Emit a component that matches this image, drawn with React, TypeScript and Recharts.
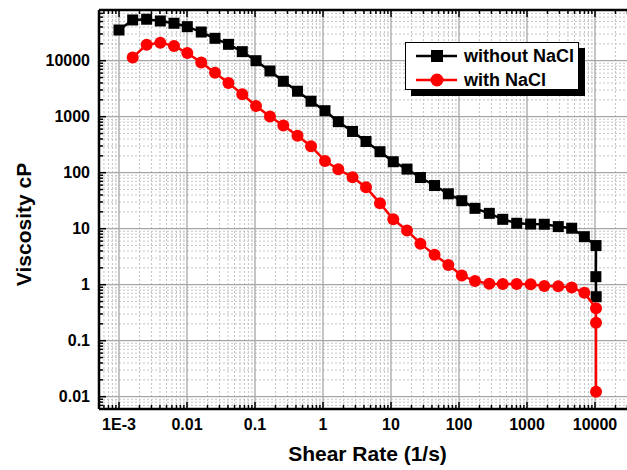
import React from 'react';
import { ScatterChart, Scatter, XAxis, YAxis, ReferenceLine, Legend, Label } from 'recharts';

// shear rate (1/s) and viscosity (cP)
const shearWithout = [
  0.001, 0.00159, 0.00255, 0.00405, 0.00644, 0.0101, 0.0162, 0.0258, 0.0407, 0.065,
  0.1035, 0.166, 0.261, 0.422, 0.667, 1.07, 1.68, 2.72, 4.29, 6.89,
  10.8, 17.2, 27.1, 43.7, 69.7, 110, 172, 279, 440, 706,
  1132, 1795, 2884, 4540, 6970, 10350, 10300, 10400
];
const viscWithout = [
  35300, 53400, 55000, 51200, 46600, 40500, 32500, 25100, 19600, 14500,
  10000, 6550, 4290, 2850, 1890, 1280, 815, 545, 361, 237,
  157, 116, 82, 59, 42, 31.6, 23.1, 18.8, 14.7, 12.5,
  12.1, 12.0, 10.9, 10.2, 7.2, 5.0, 1.39, 0.61
];
const shearWith = [
  0.00159, 0.00255, 0.00405, 0.00644, 0.0101, 0.0162, 0.0258, 0.0407, 0.065,
  0.1035, 0.166, 0.261, 0.422, 0.667, 1.07, 1.68, 2.72, 4.29, 6.89,
  10.8, 17.2, 27.1, 43.7, 69.7, 110, 172, 279, 440, 706,
  1132, 1795, 2884, 4540, 6970, 10350, 10350, 10350
];
const viscWith = [
  11400, 19300, 21000, 18300, 13700, 9290, 6110, 4000, 2520,
  1550, 1010, 697, 456, 297, 162, 115, 82.8, 55.1, 28.4,
  14.7, 9.3, 5.4, 3.43, 2.25, 1.46, 1.16, 1.04, 1.03, 1.03,
  1.02, 0.95, 0.94, 0.89, 0.72, 0.38, 0.21, 0.0123
];

const seriesNames = ['without NaCl', 'with NaCl'];

const xMajor = [0.001, 0.01, 0.1, 1, 10, 100, 1000, 10000];
const xMajorLabels = ['1E-3', '0.01', '0.1', '1', '10', '100', '1000', '10000'];
const yMajor = [0.01, 0.1, 1, 10, 100, 1000, 10000];
const yMajorLabels = ['0.01', '0.1', '1', '10', '100', '1000', '10000'];

const X_DOMAIN: [number, number] = [5.08e-4, 45900];
const Y_DOMAIN: [number, number] = [0.00603, 80400];

const FONT = '"Liberation Sans", Arial, Helvetica, sans-serif';

// minor log positions (2..9 of each decade) inside a domain
const minorsIn = (dom: [number, number]) => {
  const out: number[] = [];
  for (let e = -5; e <= 5; e++) {
    for (let m = 2; m <= 9; m++) {
      const v = +(m * Math.pow(10, e)).toPrecision(6);
      if (v > dom[0] && v < dom[1]) out.push(v);
    }
  }
  return out;
};
const xMinor = minorsIn(X_DOMAIN);
const yMinor = minorsIn(Y_DOMAIN);
const xTicks = [...xMajor, ...xMinor].sort((a, b) => a - b);
const yTicks = [...yMajor, ...yMinor].sort((a, b) => a - b);

const withoutData = shearWithout.map((x, i) => ({ x, y: viscWithout[i] }));
const withData = shearWith.map((x, i) => ({ x, y: viscWith[i] }));

const BottomTick = (props: any) => {
  const { x, y, payload } = props;
  const idx = xMajor.indexOf(payload.value);
  return (
    <g>
      <line x1={x} x2={x} y1={y} y2={y - (idx >= 0 ? 7 : 4)} stroke="#000" strokeWidth={1.5} />
      {idx >= 0 && (
        <text x={x} y={y + 21} textAnchor="middle" fontFamily={FONT} fontWeight="bold" fontSize={16} fill="#000">
          {xMajorLabels[idx]}
        </text>
      )}
    </g>
  );
};

const TopTick = (props: any) => {
  const { x, y, payload } = props;
  const major = xMajor.indexOf(payload.value) >= 0;
  return <line x1={x} x2={x} y1={y} y2={y + (major ? 7 : 4)} stroke="#000" strokeWidth={1.5} />;
};

const LeftTick = (props: any) => {
  const { x, y, payload } = props;
  const idx = yMajor.indexOf(payload.value);
  return (
    <g>
      <line x1={x} x2={x + (idx >= 0 ? 7 : 4)} y1={y} y2={y} stroke="#000" strokeWidth={1.5} />
      {idx >= 0 && (
        <text x={x - 9} y={y + 5.5} textAnchor="end" fontFamily={FONT} fontWeight="bold" fontSize={16} fill="#000">
          {yMajorLabels[idx]}
        </text>
      )}
    </g>
  );
};

const squareShape = (p: any) => <rect x={p.cx - 5.5} y={p.cy - 5.5} width={11} height={11} fill="#000" />;
const circleShape = (p: any) => <circle cx={p.cx} cy={p.cy} r={6} fill="#ff0000" />;

const renderLegend = (props: any) => {
  const payload = [...(props.payload || [])].sort(
    (a: any, b: any) => seriesNames.indexOf(a.value) - seriesNames.indexOf(b.value)
  );
  return (
    <div
      style={{
        width: 174,
        height: 48,
        boxSizing: 'border-box',
        border: '1.5px solid #000',
        background: '#fff',
        boxShadow: '6px 6px 0 #000',
        paddingTop: 1,
        fontFamily: FONT,
        fontWeight: 'bold',
        fontSize: 18,
        color: '#000'
      }}
    >
      {payload.map((entry: any, i: number) => (
        <div key={i} style={{ display: 'flex', alignItems: 'center', height: 24 }}>
          <svg width={41} height={14} style={{ marginLeft: 10, marginRight: 7 }}>
            <line x1={0} x2={41} y1={7} y2={7} stroke={entry.color} strokeWidth={2.5} />
            {entry.type === 'square' ? (
              <rect x={15} y={1} width={12} height={12} fill={entry.color} />
            ) : (
              <circle cx={21} cy={7} r={6.5} fill={entry.color} />
            )}
          </svg>
          <span style={{ lineHeight: '24px' }}>{entry.value}</span>
        </div>
      ))}
    </div>
  );
};

export default function App() {
  return (
    <div style={{ position: 'absolute', left: 0, top: 0, width: 627, height: 470, overflow: 'hidden', background: '#fff' }}>
      <ScatterChart width={640} height={470} margin={{ top: 0, right: 0, bottom: 0, left: 0 }}>
        <XAxis
          xAxisId="top"
          orientation="top"
          dataKey="x"
          type="number"
          scale="log"
          domain={X_DOMAIN}
          allowDataOverflow
          ticks={xTicks}
          interval={0}
          height={10}
          tickSize={0}
          tickMargin={0}
          tickLine={false}
          tick={<TopTick />}
          axisLine={{ stroke: '#000', strokeWidth: 2.5 }}
        />
        <XAxis
          dataKey="x"
          type="number"
          scale="log"
          domain={X_DOMAIN}
          allowDataOverflow
          ticks={xTicks}
          interval={0}
          height={61}
          tickSize={0}
          tickMargin={0}
          tickLine={false}
          tick={<BottomTick />}
          axisLine={{ stroke: '#000', strokeWidth: 2.5 }}
        >
          <Label
            content={(p: any) => {
              const vb = p.viewBox || { x: 99, y: 409, width: 541, height: 61 };
              return (
                <text x={vb.x + vb.width / 2 - 2} y={vb.y + 52} textAnchor="middle" fontFamily={FONT} fontWeight="bold" fontSize={21} fill="#000">
                  Shear Rate (1/s)
                </text>
              );
            }}
          />
        </XAxis>
        <YAxis
          dataKey="y"
          type="number"
          scale="log"
          domain={Y_DOMAIN}
          allowDataOverflow
          ticks={yTicks}
          interval={0}
          width={99}
          tickSize={0}
          tickMargin={0}
          tickLine={false}
          tick={<LeftTick />}
          axisLine={{ stroke: '#000', strokeWidth: 2.5 }}
        >
          <Label
            content={(p: any) => {
              const vb = p.viewBox || { x: 0, y: 10, width: 99, height: 399 };
              const cx = vb.x + 31;
              const cy = vb.y + vb.height / 2 + 15;
              return (
                <text x={cx} y={cy} transform={`rotate(-90, ${cx}, ${cy})`} textAnchor="middle" fontFamily={FONT} fontWeight="bold" fontSize={21} fill="#000">
                  Viscosity cP
                </text>
              );
            }}
          />
        </YAxis>

        {/* minor and major grid */}
        {xMinor.map((v) => (
          <ReferenceLine key={'xm' + v} x={v} stroke="#c4c4c4" strokeDasharray="2 2" />
        ))}
        {yMinor.map((v) => (
          <ReferenceLine key={'ym' + v} y={v} stroke="#c4c4c4" strokeDasharray="2 2" />
        ))}
        {xMajor.map((v) => (
          <ReferenceLine key={'xM' + v} x={v} stroke="#a6a6a6" strokeWidth={1.3} />
        ))}
        {yMajor.map((v) => (
          <ReferenceLine key={'yM' + v} y={v} stroke="#a6a6a6" strokeWidth={1.3} />
        ))}

        <Scatter
          name={seriesNames[0]}
          data={withoutData}
          fill="#000000"
          legendType="square"
          line={{ stroke: '#000000', strokeWidth: 2.5 }}
          lineType="joint"
          shape={squareShape}
          isAnimationActive={false}
        />
        <Scatter
          name={seriesNames[1]}
          data={withData}
          fill="#ff0000"
          legendType="circle"
          line={{ stroke: '#ff0000', strokeWidth: 2.5 }}
          lineType="joint"
          shape={circleShape}
          isAnimationActive={false}
        />
        <Legend
          layout="vertical"
          align="center"
          verticalAlign="middle"
          content={renderLegend}
          wrapperStyle={{ left: 405, top: 42, width: 174, height: 48 }}
        />
      </ScatterChart>
    </div>
  );
}
